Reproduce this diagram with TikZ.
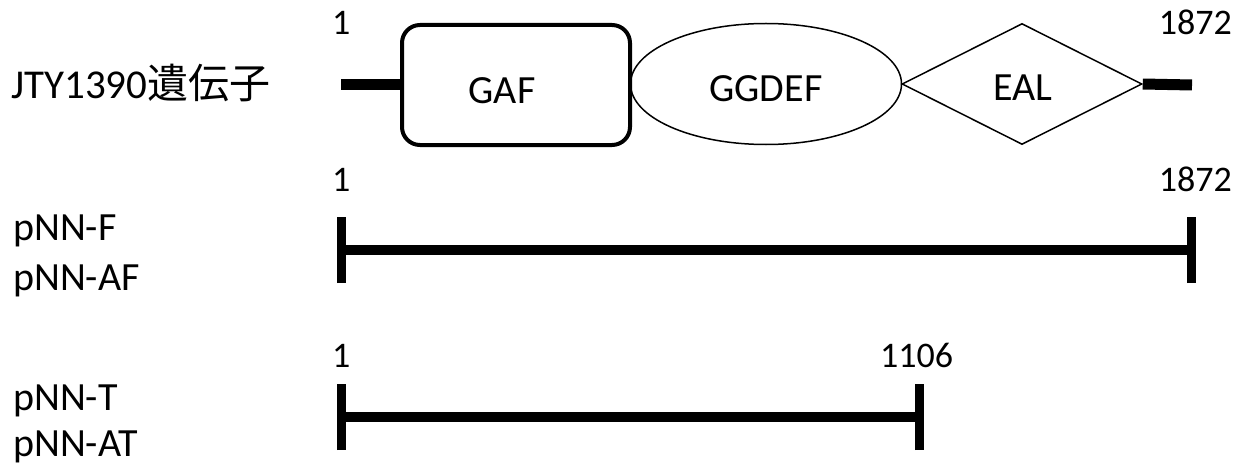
\documentclass[tikz,border=0pt]{standalone}
\usepackage{fontspec}
\setmainfont{Carlito}
\newfontfamily\cjk{Noto Sans CJK JP}
\usetikzlibrary{shapes.geometric}
\begin{document}
\begin{tikzpicture}[x=1pt,y=-1pt,
  numlbl/.style={inner sep=0pt,font=\fontsize{36}{43}\selectfont},
  rowlbl/.style={inner sep=0pt,anchor=base west,font=\fontsize{40}{48}\selectfont},
  domlbl/.style={inner sep=0pt,anchor=base,font=\fontsize{40}{48}\selectfont},
  gafbox/.style={draw,line width=4pt,rounded corners=18pt,minimum width=228pt,minimum height=120pt,inner sep=0pt},
  ggdefell/.style={draw,ellipse,line width=1.5pt,minimum width=271pt,minimum height=121pt,inner sep=0pt},
  ealdia/.style={draw,diamond,line width=1.5pt,minimum width=240pt,minimum height=121pt,inner sep=0pt},
  stem/.style={line width=11pt},
  barline/.style={line width=10pt},
  tick/.style={line width=9pt}]
\useasboundingbox (0,0) rectangle (1249,468);

% gene row
\node[rowlbl] (gene) at (11,99) {\fontsize{41}{49}\selectfont JTY1390{\cjk 遺伝子}};
\node[gafbox] (gaf) at (516,85) {};
\node[ggdefell] (ggdef) at (766,84) {};
\node[ealdia] (eal) at (1022,84) {};
\node[domlbl] (gaft) at (502,103) {GAF};
\node[domlbl] (ggdeft) at (766,102) {GGDEF};
\node[domlbl] (ealt) at (1023,101) {EAL};
\coordinate (ls) at (341,85);
\coordinate (re) at (1192,85);
\draw[stem] (ls) -- (gaf.west |- ls);
\draw[stem] (eal.east) -- (re);
\node[numlbl,anchor=base west] (n1a) at (332,35) {1};
\node[numlbl,anchor=base east] (n1872a) at (1232,35) {1872};

% full-length construct
\node[numlbl,anchor=base west] (n1b) at (332,191) {1};
\node[numlbl,anchor=base east] (n1872b) at (1232,191) {1872};
\node[rowlbl] (pf) at (13,240) {pNN-F};
\node[rowlbl] (paf) at (13,290) {pNN-AF};
\coordinate (b1l) at (341.5,250);
\coordinate (b1r) at (1191.5,250);
\draw[barline] (b1l) -- (b1r);
\draw[tick] ([yshift=-33pt]b1l) -- ([yshift=33pt]b1l);
\draw[tick] ([yshift=-33pt]b1r) -- ([yshift=33pt]b1r);

% truncated construct
\node[numlbl,anchor=base west] (n1c) at (332,367) {1};
\node[numlbl,anchor=base west] (n1106) at (880,367) {1106};
\node[rowlbl] (pt) at (13,410) {pNN-T};
\node[rowlbl] (pat) at (13,456) {pNN-AT};
\coordinate (b2l) at (341.5,417);
\coordinate (b2r) at (919,417);
\draw[barline] (b2l) -- (b2r);
\draw[tick] ([yshift=-33pt]b2l) -- ([yshift=33pt]b2l);
\draw[tick] ([yshift=-33pt]b2r) -- ([yshift=33pt]b2r);
\end{tikzpicture}
\end{document}
